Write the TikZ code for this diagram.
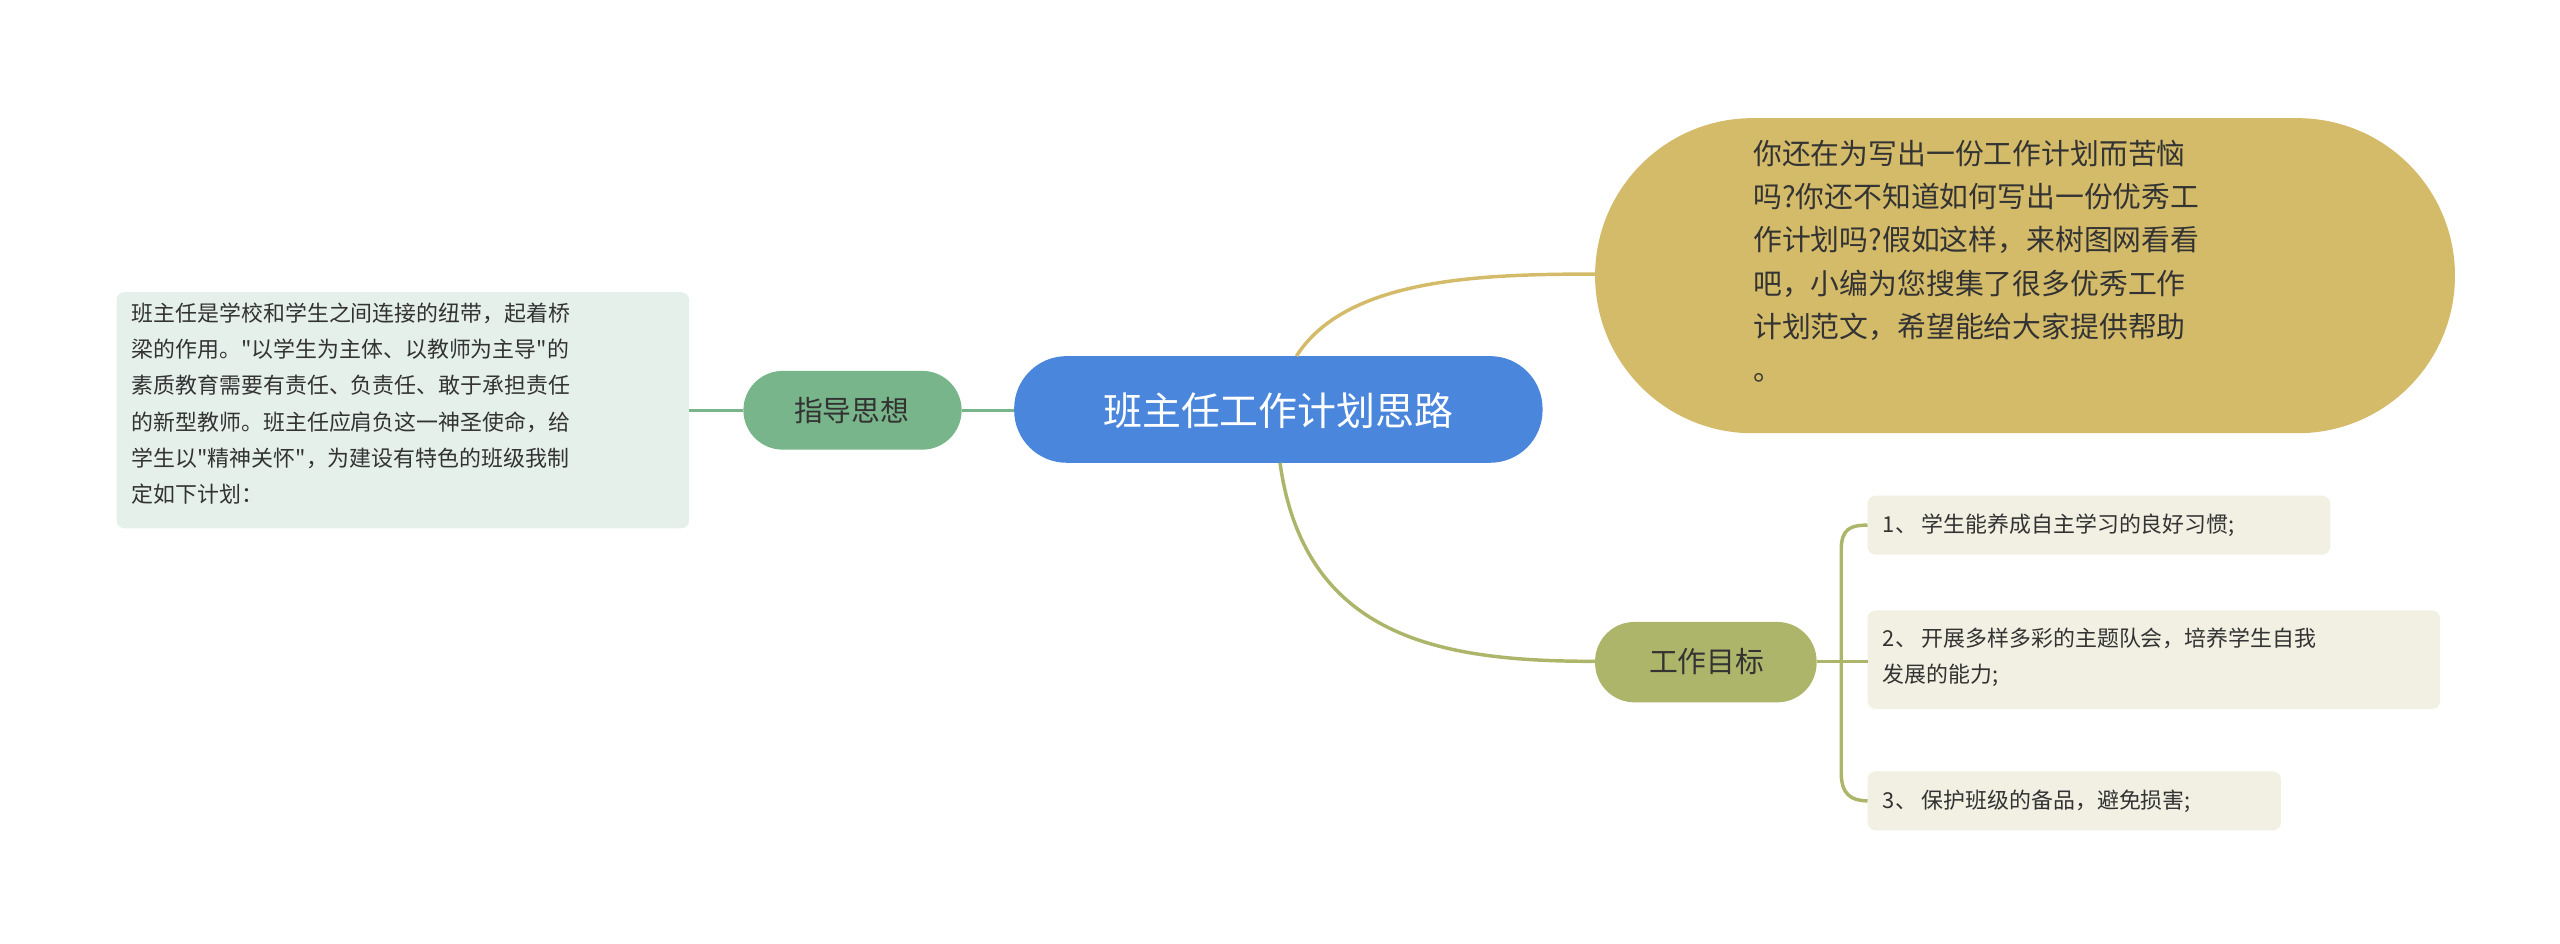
\documentclass[tikz,border=0pt]{standalone}
\usepackage{fontspec}
\newfontfamily\cjk{Noto Sans CJK SC}
\definecolor{cblue}{HTML}{4A86DC}
\definecolor{cgreen}{HTML}{78B58A}
\definecolor{cnote}{HTML}{E5F0EA}
\definecolor{cgold}{HTML}{D4BB69}
\definecolor{colive}{HTML}{ADB56A}
\definecolor{citem}{HTML}{F1F0E2}
\begin{document}
\begin{tikzpicture}[x=0.02cm,y=-0.02cm,font=\cjk,
  pill/.style={rounded corners=24*0.02cm,inner sep=0},
  txt/.style={align=left,anchor=north west,inner sep=0,font=\cjk\fontsize{7.6pt}{12.6pt}\selectfont,text=black!80},
  lnk/.style={line width=1.2pt}]
\useasboundingbox (0,0) rectangle (1560,575);
% center
\fill[cblue,rounded corners=32*0.02cm] (618,217) rectangle (940,282);
\node (c) at (779,250) {\fontsize{13.5pt}{16pt}\selectfont\color{white}班主任工作计划思路};
% left
\fill[cgreen,rounded corners=24*0.02cm] (453,226) rectangle (586,274);
\node (g) at (519,250) {\fontsize{10pt}{12pt}\selectfont\color{black!80}指导思想};
\fill[cnote,rounded corners=5*0.02cm] (71,178) rectangle (420,322);
\node[txt] (n) at (80,184) {班主任是学校和学生之间连接的纽带，起着桥\\梁的作用。"以学生为主体、以教师为主导"的\\素质教育需要有责任、负责任、敢于承担责任\\的新型教师。班主任应肩负这一神圣使命，给\\学生以"精神关怀"，为建设有特色的班级我制\\定如下计划：};
\coordinate (cl) at (618,250);
\coordinate (gl) at (586,250);
\draw[cgreen,lnk] (cl) -- (gl);
\draw[cgreen,lnk] (453,250) -- (420,250);
% top right
\fill[cgold,rounded corners=96*0.02cm] (972,72) rectangle (1496,264);
\node[txt,font=\cjk\fontsize{10pt}{15pt}\selectfont] (t) at (1068,85) {你还在为写出一份工作计划而苦恼\\吗?你还不知道如何写出一份优秀工\\作计划吗?假如这样，来树图网看看\\吧，小编为您搜集了很多优秀工作\\计划范文，希望能给大家提供帮助\\。};
\draw[cgold,lnk] (790,217) .. controls (820,170) and (900,167) .. (972,167);
% bottom right
\fill[colive,rounded corners=24*0.02cm] (972,379) rectangle (1107,428);
\node (w) at (1040,403) {\fontsize{10pt}{12pt}\selectfont\color{black!80}工作目标};
\draw[colive,lnk] (780,282) .. controls (795,390) and (880,403) .. (972,403);
\draw[colive,lnk] (1107,403) -- (1122,403);
\fill[citem,rounded corners=5*0.02cm] (1138,302) rectangle (1420,338);
\node[txt,anchor=west] (i1) at (1147,320) {1、 学生能养成自主学习的良好习惯;};
\fill[citem,rounded corners=5*0.02cm] (1138,372) rectangle (1487,432);
\node[txt] (i2) at (1147,382) {2、 开展多样多彩的主题队会，培养学生自我\\发展的能力;};
\fill[citem,rounded corners=5*0.02cm] (1138,470) rectangle (1390,506);
\node[txt,anchor=west] (i3) at (1147,488) {3、 保护班级的备品，避免损害;};
\draw[colive,lnk] (1122,403) -- (1122,335) .. controls (1122,322) and (1128,320) .. (1138,320);
\draw[colive,lnk] (1122,403) -- (1138,403);
\draw[colive,lnk] (1122,403) -- (1122,471) .. controls (1122,484) and (1128,488) .. (1138,488);
\end{tikzpicture}
\end{document}
